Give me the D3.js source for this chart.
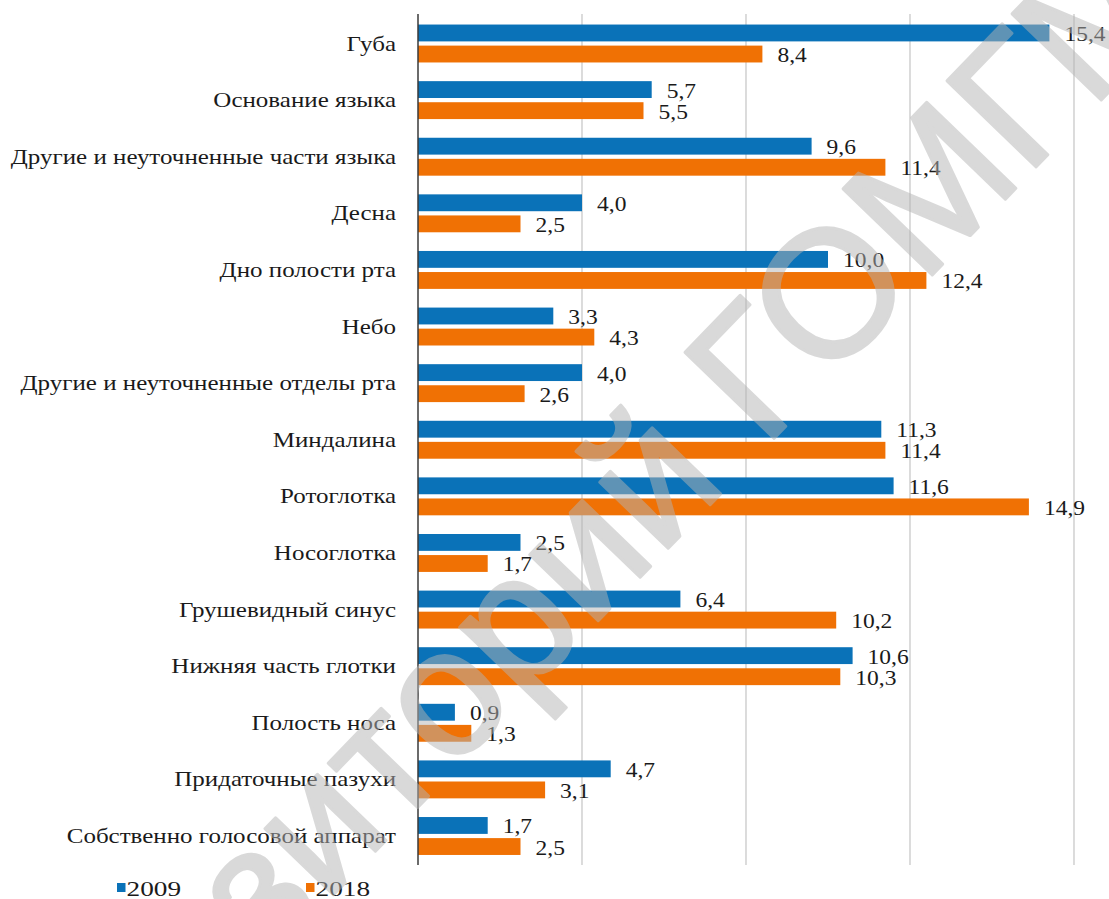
<!DOCTYPE html>
<html>
<head>
<meta charset="utf-8">
<script src="https://cdn.jsdelivr.net/npm/d3@7"></script>
<style>
  html, body { margin: 0; padding: 0; background: #fff; }
  svg { display: block; }
</style>
</head>
<body>
<div id="chart"></div>
<script>
const categories = [
  "Губа",
  "Основание языка",
  "Другие и неуточненные части языка",
  "Десна",
  "Дно полости рта",
  "Небо",
  "Другие и неуточненные отделы рта",
  "Миндалина",
  "Ротоглотка",
  "Носоглотка",
  "Грушевидный синус",
  "Нижняя часть глотки",
  "Полость носа",
  "Придаточные пазухи",
  "Собственно голосовой аппарат"
];
const seriesNames = ["2009", "2018"];
const values2009 = [15.4, 5.7, 9.6, 4.0, 10.0, 3.3, 4.0, 11.3, 11.6, 2.5, 6.4, 10.6, 0.9, 4.7, 1.7];
const values2018 = [8.4, 5.5, 11.4, 2.5, 12.4, 4.3, 2.6, 11.4, 14.9, 1.7, 10.2, 10.3, 1.3, 3.1, 2.5];
const gridTicks = [0, 4, 8, 12, 16];
const watermarkText = "Репозиторий ГОМГМУ";

const W = 1109, H = 899;
const colors = { "2009": "#0a72b8", "2018": "#f07104" };
const SERIF = "Liberation Serif";
const TEXT_COLOR = "#1a1a1a";

const svg = d3.select("#chart").append("svg")
  .attr("width", W).attr("height", H);

const x = d3.scaleLinear().domain([0, 16]).range([418, 1074]);
const y = d3.scaleBand().domain(categories).range([15.2, 864.3])
  .paddingInner(0.33).paddingOuter(0.165);
const ySub = d3.scaleBand().domain(seriesNames).range([0, y.bandwidth()]).paddingInner(0.2);

// gridlines
svg.append("g").selectAll("line")
  .data(gridTicks.filter(d => d > 0))
  .join("line")
  .attr("x1", d => x(d)).attr("x2", d => x(d))
  .attr("y1", 14).attr("y2", 865)
  .attr("stroke", "#c4c4c4").attr("stroke-width", 1.2);

// bars
const rows = categories.map((c, i) => ({ cat: c, vals: [
  { s: "2009", v: values2009[i] },
  { s: "2018", v: values2018[i] }
]}));

const groups = svg.append("g").selectAll("g")
  .data(rows).join("g")
  .attr("transform", d => `translate(0,${y(d.cat)})`);

groups.selectAll("rect")
  .data(d => d.vals).join("rect")
  .attr("x", x(0))
  .attr("y", d => ySub(d.s))
  .attr("width", d => x(d.v) - x(0))
  .attr("height", ySub.bandwidth())
  .attr("fill", d => colors[d.s]);

const fmt = v => d3.format(".1f")(v).replace(".", ",");

groups.selectAll("text.val")
  .data(d => d.vals).join("text")
  .attr("class", "val")
  .attr("transform", d => `translate(${x(d.v) + 15},${ySub(d.s) + ySub.bandwidth() / 2 + 8}) scale(1.12,1)`)
  .attr("font-family", SERIF)
  .attr("font-size", 21)
  .attr("fill", TEXT_COLOR)
  .text(d => fmt(d.v));

// vertical category axis line
const yAxis = d3.axisLeft(y).tickSize(0).tickPadding(0).tickFormat("");
const axG = svg.append("g").attr("transform", `translate(${x(0)},0)`).call(yAxis);
axG.select(".domain").attr("d", "M0,14V865").attr("stroke", "#3a3a3a").attr("stroke-width", 1.5);

// category labels
svg.append("g").selectAll("text")
  .data(categories).join("text")
  .attr("transform", d => `translate(396,${y(d) + y.bandwidth() / 2 + 7}) scale(1.19,1)`)
  .attr("text-anchor", "end")
  .attr("font-family", SERIF)
  .attr("font-size", 21)
  .attr("fill", TEXT_COLOR)
  .text(d => d);

// legend
const legendX = [117, 306];
const lg = svg.append("g").selectAll("g")
  .data(seriesNames).join("g")
  .attr("transform", (d, i) => `translate(${legendX[i]},0)`);
lg.append("rect").attr("x", 0).attr("y", 883).attr("width", 8.5).attr("height", 9)
  .attr("fill", d => colors[d]);
lg.append("text")
  .attr("transform", "translate(9.5,896) scale(1.3,1)")
  .attr("font-family", SERIF)
  .attr("font-size", 21)
  .attr("fill", TEXT_COLOR)
  .text(d => d);

// watermark
const wmG = svg.append("g")
  .attr("transform", "translate(764,449) rotate(-46)")
  .attr("opacity", 0.5);
const wm = wmG.append("text")
  .attr("font-family", "Liberation Sans")
  .attr("font-size", 180)
  .attr("fill", "#b4b4b4")
  .attr("stroke", "#b4b4b4")
  .attr("stroke-width", 3)
  .attr("stroke-linejoin", "round")
  .text(watermarkText);
const splitIdx = watermarkText.indexOf("Г");
const pre = wm.node().getSubStringLength(0, splitIdx);
wm.attr("x", -pre);
</script>
</body>
</html>
